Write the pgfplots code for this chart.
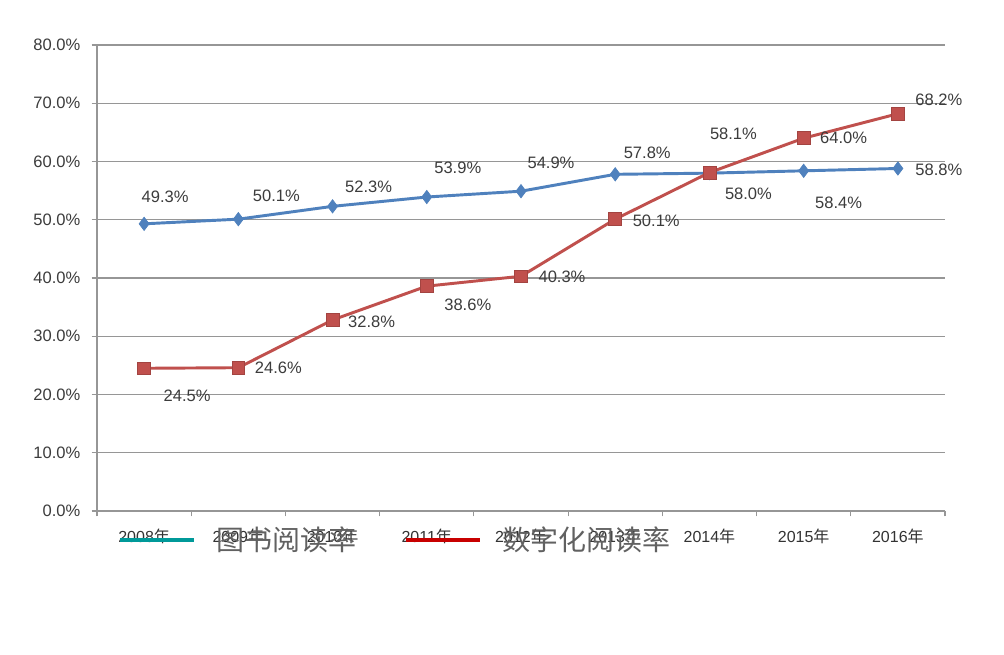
\documentclass[border=0pt]{standalone}
\usepackage{pgfplots}
\pgfplotsset{compat=1.18}
\usepackage{pgfplotstable}
\usepackage{fontspec}
\setmainfont{Liberation Sans}
\newfontfamily\cjk{Noto Sans CJK SC}

\definecolor{serblue}{RGB}{79,129,189}
\definecolor{serred}{RGB}{192,80,77}
\definecolor{legteal}{RGB}{0,153,153}
\definecolor{legred}{RGB}{200,0,0}
\definecolor{txt}{RGB}{60,60,60}
\definecolor{gridc}{RGB}{150,150,150}

% x, value, label offset (px right, px up)
\pgfplotstableread{
x y dx dy
0 49.3 21 27
1 50.1 38 23
2 52.3 36 20
3 53.9 31 29
4 54.9 30 28
5 57.8 32 22
6 58.0 39 -21
7 58.4 35 -32
8 58.8 41 -1
}\booktab
\pgfplotstableread{
x y dx dy
0 24.5 43 -28
1 24.6 40 0
2 32.8 39 -2
3 38.6 41 -19
4 40.3 41 -1
5 50.1 41 -2
6 58.1 24 39
7 64.0 40 0
8 68.2 41 14
}\digitab

\begin{document}
\begin{tikzpicture}
\path[use as bounding box, fill=white] (0,0) rectangle (753pt,490.5pt);
\begin{axis}[
    at={(72.75pt,107.25pt)}, anchor=south west,
    scale only axis, width=636pt, height=349.5pt,
    clip=false,
    xmin=-0.5, xmax=8.5, ymin=0, ymax=80,
    axis lines*=left,
    axis line style={gridc, line width=0.9pt},
    tick align=outside,
    xtick={0,...,8},
    xticklabels={2008{\cjk 年},2009{\cjk 年},2010{\cjk 年},2011{\cjk 年},2012{\cjk 年},2013{\cjk 年},2014{\cjk 年},2015{\cjk 年},2016{\cjk 年}},
    major x tick style={draw=none},
    minor xtick={-0.5,0.5,...,8.5},
    minor tick length=4pt,
    minor x tick style={gridc, line width=0.8pt},
    xticklabel style={font=\fontsize{12}{14}\selectfont, text=black!80, yshift=-6pt},
    ytick={0,10,...,80},
    major tick length=4pt,
    ytick style={gridc, line width=0.8pt},
    yticklabel={\pgfmathprintnumber[fixed,fixed zerofill,precision=1]{\tick}\%},
    yticklabel style={font=\fontsize{12.4}{14}\selectfont, text=txt, xshift=-5pt},
    /pgf/number format/assume math mode=true,
    ymajorgrids,
    grid style={gridc, line width=0.8pt},
    nodes near coords={\pgfmathprintnumber[fixed,fixed zerofill,precision=1]{\pgfplotspointmeta}\%},
    visualization depends on={\thisrow{dx}\as\dx},
    visualization depends on={\thisrow{dy}\as\dy},
    every node near coord/.append style={anchor=center, font=\fontsize{12.4}{14}\selectfont, text=txt,
        xshift=\dx*0.75pt, yshift=\dy*0.75pt},
    legend columns=2,
    legend image code/.code={\draw[#1, line width=3pt] (0pt,0pt) -- (55.5pt,0pt);},
    legend style={at={(axis description cs:0.0248,-0.062)}, anchor=west,
        draw=none, fill=none, inner sep=0pt,
        nodes={inner sep=0pt},
        font=\cjk\fontsize{21}{24}\selectfont, text=black!62,
        /tikz/every odd column/.append style={column sep=15.5pt},
        /tikz/every even column/.append style={column sep=35.5pt}},
]
\addplot[serblue, line width=2.2pt, mark=diamond*, mark size=5pt,
    mark options={fill=serblue, draw=serblue, line width=0.5pt}, forget plot]
    table[x=x, y=y] {\booktab};
\addplot[serred, line width=2.2pt, mark=square*, mark size=4.8pt,
    mark options={fill=serred, draw=serred!85!black, line width=0.5pt}, forget plot]
    table[x=x, y=y] {\digitab};
\addlegendimage{legteal}
\addlegendentry{图书阅读率}
\addlegendimage{legred}
\addlegendentry{数字化阅读率}
\end{axis}
\end{tikzpicture}
\end{document}
